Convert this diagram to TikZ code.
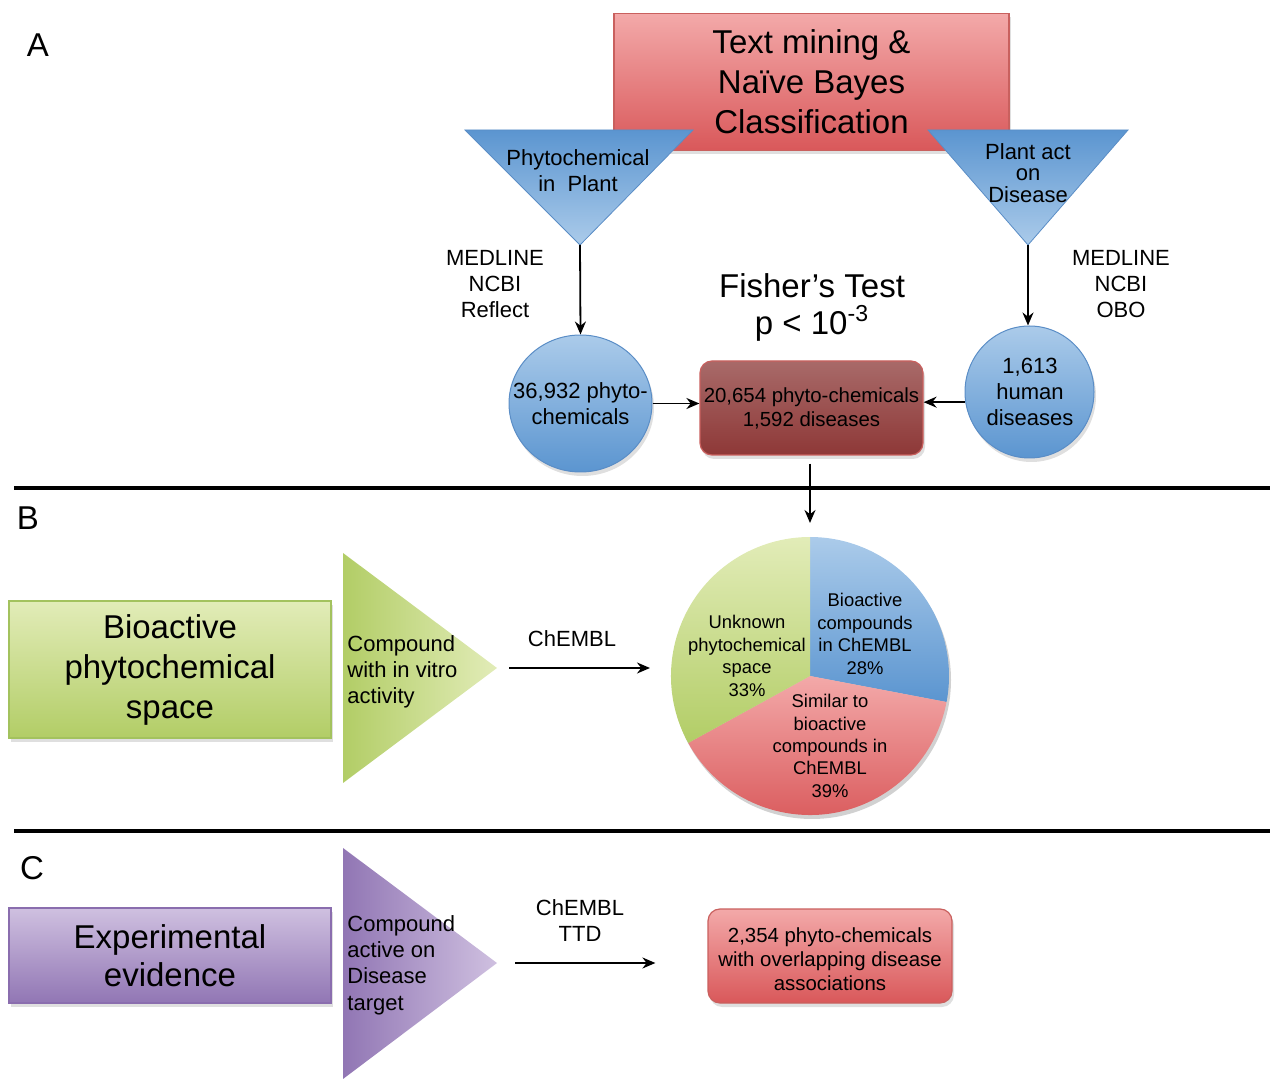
\documentclass[tikz,border=0pt]{standalone}
\usepackage{fontspec}
\setmainfont{Liberation Sans}
\usetikzlibrary{shapes.geometric,arrows.meta,shadows}
\definecolor{redTop}{HTML}{F3A9A9}
\definecolor{redBot}{HTML}{D9585A}
\definecolor{redEdge}{HTML}{C9605E}
\definecolor{blueDark}{HTML}{5B95D0}
\definecolor{blueLight}{HTML}{ABCBEA}
\definecolor{blueEdge}{HTML}{5A8DC6}
\definecolor{greenLight}{HTML}{E2ECB8}
\definecolor{greenDark}{HTML}{B2CD66}
\definecolor{greenEdge}{HTML}{A3C25E}
\definecolor{purpLight}{HTML}{CFC0E0}
\definecolor{purpDark}{HTML}{9176B4}
\definecolor{purpEdge}{HTML}{8A6DAE}
\definecolor{brownTop}{HTML}{A86A69}
\definecolor{brownBot}{HTML}{8E3837}
\begin{document}
\begin{tikzpicture}[x=0.5pt,y=-0.5pt,
  t165/.style={font=\fontsize{16.5}{20}\selectfont, align=center, inner sep=0pt},
  t11/.style={font=\fontsize{11}{13}\selectfont, align=center, inner sep=0pt},
  t10/.style={font=\fontsize{10.2}{12}\selectfont, align=center, inner sep=0pt},
  t9/.style={font=\fontsize{9.2}{11.2}\selectfont, align=center, inner sep=0pt},
  shad/.style={drop shadow={opacity=0.25, shadow xshift=1pt, shadow yshift=-2pt}},
  redbox/.style={shade, top color=redTop, bottom color=redBot, draw=redEdge, line width=0.6pt, shad},
  bluecirc/.style={ellipse, shade, top color=blueLight, bottom color=blueDark, draw=blueEdge, line width=0.5pt, inner sep=0pt, shad},
  arr/.style={-{Stealth[length=6.5pt,width=5.5pt]}, line width=0.9pt},
  sep/.style={line width=1.6pt}]
\useasboundingbox (0,0) rectangle (1270,1079);

% ---------- Section A ----------
\node[t165] (lA) at (38,45) {A};
\node[redbox, minimum width=197.5pt, minimum height=68.5pt, t165, inner sep=0pt] (tm) at (811.5,82)
  {Text mining \&\\Naïve Bayes\\Classification};

\shade[top color=blueDark, bottom color=blueLight, draw=blueEdge, line width=0.4pt]
  (465,130) -- (693,130) -- (580,245) -- cycle;
\coordinate (t1apex) at (580,245);
\node[t11] (t1txt) at (578,171) {Phytochemical\\in~ Plant};

\shade[top color=blueDark, bottom color=blueLight, draw=blueEdge, line width=0.4pt]
  (928,130) -- (1128,130) -- (1028,245) -- cycle;
\coordinate (t2apex) at (1028,245);
\node[font=\fontsize{11}{10.6}\selectfont, align=center, inner sep=0pt] (t2txt) at (1028,173) {Plant act\\on\\Disease};

\node[t11] (src1) at (495,284) {MEDLINE\\NCBI\\Reflect};
\node[t11] (src2) at (1121,284) {MEDLINE\\NCBI\\OBO};
\node[font=\fontsize{16.5}{18.5}\selectfont, align=center, inner sep=0pt] (fisher) at (812,307)
  {Fisher’s Test\\p < 10\textsuperscript{-3}};

\node[bluecirc, minimum width=71.5pt, minimum height=68.5pt] (c1) at (580.5,403.5) {};
\node[t11] (c1txt) at (c1.center) {36,932 phyto-\\chemicals};
\node[bluecirc, minimum width=64.5pt, minimum height=66pt] (c2) at (1029.5,392) {};
\node[t11] (c2txt) at (1030,392) {1,613\\human\\diseases};

\node[rounded corners=6pt, shade, top color=brownTop, bottom color=brownBot, draw=redEdge, line width=0.6pt,
  minimum width=111.5pt, minimum height=47pt, shad, t10] (mid) at (811.5,408)
  {20,654 phyto-chemicals\\1,592 diseases};

\draw[arr] (t1apex) -- (c1.north);
\draw[arr] (t2apex) -- (c2.north -| t2apex);
\draw[arr] (c1.east) -- (c1.east -| mid.west);
\draw[arr] (c2.189) -- (c2.189 -| mid.east);

\draw[sep] (14,488) -- (1270,488);

% ---------- Section B ----------
\node[t165] (lB) at (28,518) {B};
\node[shade, top color=greenLight, bottom color=greenDark, draw=greenEdge, line width=0.6pt,
  minimum width=161pt, minimum height=68.5pt, shad, t165] (bio) at (170,669.5)
  {Bioactive\\phytochemical\\space};
\shade[left color=greenDark, right color=greenLight]
  (343,553) -- (497,668) -- (343,783) -- cycle;
\coordinate (gapex) at (497,668);
\node[font=\fontsize{11}{13}\selectfont, align=left, inner sep=0pt, anchor=west] (gtxt) at (347,672)
  {Compound\\with in vitro\\activity};
\node[t11] (chem1) at (572,639) {ChEMBL};

\coordinate (pc) at (810,676);
\coordinate (pietop) at (810,537);
\coordinate (piewest) at (671,676);
\fill[black, opacity=0.18] (812,680) circle (139);
\shade[top color=blueLight, bottom color=blueDark]
  (pc) -- ++(-90:139) arc[start angle=-90, end angle=10.8, radius=139] -- cycle;
\shade[top color=redTop, bottom color=redBot]
  (pc) -- ++(10.8:139) arc[start angle=10.8, end angle=151.2, radius=139] -- cycle;
\shade[top color=greenLight, bottom color=greenDark]
  (pc) -- ++(151.2:139) arc[start angle=151.2, end angle=270, radius=139] -- cycle;
\node[t9] (pb) at (865,634) {Bioactive\\compounds\\in ChEMBL\\28\%};
\node[t9] (pu) at (747,656) {Unknown\\phytochemical\\space\\33\%};
\node[t9] (ps) at (830,746) {Similar to\\bioactive\\compounds in\\ChEMBL\\39\%};

\draw[arr, shorten <=4pt, shorten >=7pt] (mid.south -| pietop) -- (pietop);
\draw[arr, shorten <=6pt, shorten >=10.5pt] (gapex) -- (gapex -| piewest);

\draw[sep] (14,831) -- (1270,831);

% ---------- Section C ----------
\node[t165] (lC) at (32,868) {C};
\node[shade, top color=purpLight, bottom color=purpDark, draw=purpEdge, line width=0.6pt,
  minimum width=161pt, minimum height=47.5pt, shad, font=\fontsize{16.5}{19}\selectfont, align=center, inner sep=0pt] (exp) at (170,955.5)
  {Experimental\\evidence};
\shade[left color=purpDark, right color=purpLight]
  (343,848) -- (497,963) -- (343,1079) -- cycle;
\coordinate (papex) at (497,963);
\node[font=\fontsize{11}{13.2}\selectfont, align=left, inner sep=0pt, anchor=west] (ptxt) at (347,965)
  {Compound\\active on\\Disease\\target};
\node[t11] (chem2) at (580,921) {ChEMBL\\TTD};
\node[redbox, rounded corners=6pt, minimum width=122pt, minimum height=47pt] (res) at (830,956) {};
\node[t10] (restxt) at (830,959) {2,354 phyto-chemicals\\with overlapping disease\\associations};
\draw[arr, shorten <=9pt, shorten >=26pt] (papex) -- (papex -| res.west);
\end{tikzpicture}
\end{document}
